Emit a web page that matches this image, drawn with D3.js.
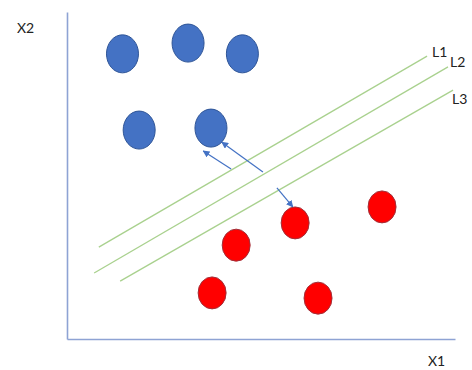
<!DOCTYPE html>
<html><head><meta charset="utf-8">
<script src="https://cdn.jsdelivr.net/npm/d3@7"></script>
<style>html,body{margin:0;padding:0;background:#fff;}svg{display:block;}</style>
</head><body>
<script>
// Data (in abstract X1/X2 units 0..100)
const blueX = [14.3, 31.2, 45.2, 18.6, 37.1];
const blueY = [87.2, 90.5, 87.2, 63.9, 64.5];
const redX  = [58.8, 81.2, 43.6, 37.4, 64.7];
const redY  = [35.5, 40.4, 28.7, 14.1, 12.5];
const lineNames = ["L1", "L2", "L3"];
const lineX1 = [8.2, 7.0, 13.7];
const lineY1 = [28.1, 20.2, 17.7];
const lineX2 = [92.8, 98.2, 99.5];
const lineY2 = [86.5, 83.2, 76.1];
const arrowX1 = [42.3, 50.5, 54.1];
const arrowY1 = [52.0, 51.1, 46.2];
const arrowX2 = [35.1, 39.9, 58.2];
const arrowY2 = [57.5, 60.2, 40.4];
const axisLabels = ["X1", "X2"];

const W = 472, H = 370;
const svg = d3.select("body").append("svg").attr("width", W).attr("height", H);
const x = d3.scaleLinear().domain([0, 100]).range([67, 455]);
const y = d3.scaleLinear().domain([0, 100]).range([339, 12]);

const defs = svg.append("defs");
defs.append("marker").attr("id", "ah").attr("viewBox", "0 0 10 10")
  .attr("refX", 9).attr("refY", 5).attr("markerWidth", 7).attr("markerHeight", 7)
  .attr("orient", "auto").attr("markerUnits", "userSpaceOnUse")
  .append("path").attr("d", "M0,0L10,5L0,10Z").attr("fill", "#4472c4");

// axes
const axColor = "#8ea3d4";
const gx = svg.append("g").attr("transform", `translate(0,${y(0)})`)
  .call(d3.axisBottom(x).tickValues([]).tickSizeOuter(0));
const gy = svg.append("g").attr("transform", `translate(${x(0)},0)`)
  .call(d3.axisLeft(y).tickValues([]).tickSizeOuter(0));
[gx, gy].forEach(g => g.select(".domain").attr("stroke", axColor).attr("stroke-width", 1.6));

// separating lines
const lines = lineNames.map((n, i) => ({n, x1: lineX1[i], y1: lineY1[i], x2: lineX2[i], y2: lineY2[i]}));
svg.selectAll("line.sep").data(lines).join("line").attr("class", "sep")
  .attr("x1", d => x(d.x1)).attr("y1", d => y(d.y1))
  .attr("x2", d => x(d.x2)).attr("y2", d => y(d.y2))
  .attr("stroke", "#a9d18e").attr("stroke-width", 1.3);

// arrows
const arrows = arrowX1.map((v, i) => ({x1: v, y1: arrowY1[i], x2: arrowX2[i], y2: arrowY2[i]}));
svg.selectAll("line.arr").data(arrows).join("line").attr("class", "arr")
  .attr("x1", d => x(d.x1)).attr("y1", d => y(d.y1))
  .attr("x2", d => x(d.x2)).attr("y2", d => y(d.y2))
  .attr("stroke", "#4472c4").attr("stroke-width", 1.2).attr("marker-end", "url(#ah)");

// points
const blue = blueX.map((v, i) => ({x: v, y: blueY[i]}));
const red = redX.map((v, i) => ({x: v, y: redY[i]}));
svg.selectAll("ellipse.b").data(blue).join("ellipse").attr("class", "b")
  .attr("cx", d => x(d.x)).attr("cy", d => y(d.y)).attr("rx", 16).attr("ry", 19)
  .attr("fill", "#4472c4").attr("stroke", "#2f5597").attr("stroke-width", 1);
svg.selectAll("ellipse.r").data(red).join("ellipse").attr("class", "r")
  .attr("cx", d => x(d.x)).attr("cy", d => y(d.y)).attr("rx", 14).attr("ry", 16)
  .attr("fill", "#ff0000").attr("stroke", "#a0303a").attr("stroke-width", 1);

// line labels
const labelOff = [[5, 1], [2, 0], [-1, 14]];
svg.selectAll("text.ll").data(lines).join("text").attr("class", "ll")
  .attr("x", (d, i) => x(d.x2) + labelOff[i][0]).attr("y", (d, i) => y(d.y2) + labelOff[i][1])
  .attr("font-family", "Lato, 'Open Sans', sans-serif").attr("font-size", 14).attr("fill", "#222")
  .text(d => d.n);

// axis labels
svg.append("text").attr("x", 428).attr("y", 366).text(axisLabels[0])
  .attr("font-family", "Lato, 'Open Sans', sans-serif").attr("font-size", 14).attr("fill", "#222");
svg.append("text").attr("x", 17).attr("y", 33).text(axisLabels[1])
  .attr("font-family", "Lato, 'Open Sans', sans-serif").attr("font-size", 14).attr("fill", "#222");
</script>
</body></html>
